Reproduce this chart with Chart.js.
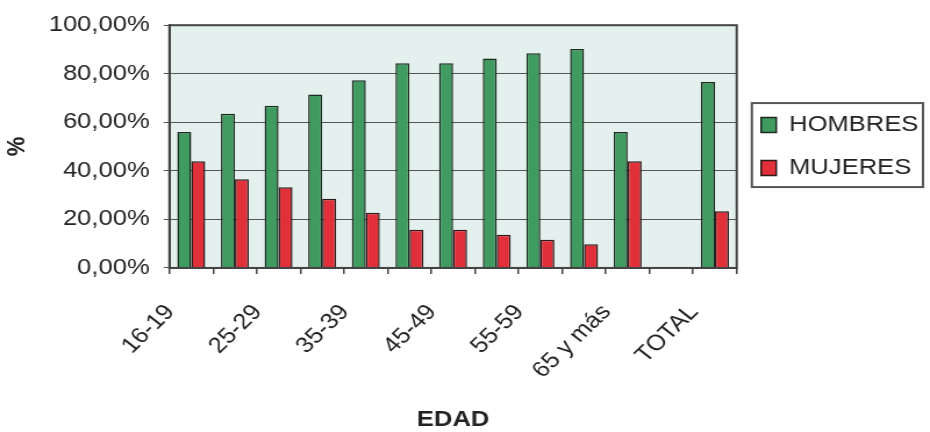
<!DOCTYPE html>
<html>
<head>
<meta charset="utf-8">
<script src="https://cdn.jsdelivr.net/npm/chart.js@4"></script>
<style>
  html, body { margin: 0; padding: 0; background: #fff; overflow: hidden; }
  #wrap { width: 800px; height: 432px; transform: scaleX(1.1625); transform-origin: 0 0; }
</style>
</head>
<body>
<div id="wrap"><canvas id="edadChart"></canvas></div>
<script>
// percent of each sex by age group
const categories = ["16-19", "20-24", "25-29", "30-34", "35-39", "40-44", "45-49",
  "50-54", "55-59", "60-64", "65 y más", "", "TOTAL"];
const hombres = [56.0, 63.5, 66.8, 71.5, 77.3, 84.3, 84.3, 86.3, 88.4, 90.2, 56.0, null, 76.6];
const mujeres = [44.0, 36.5, 33.2, 28.5, 22.7, 15.7, 15.7, 13.7, 11.6, 9.8, 44.0, null, 23.4];
const yTicks = [0, 20, 40, 60, 80, 100];

Chart.defaults.font.family = "'Liberation Sans', Arial, sans-serif";
Chart.defaults.font.size = 22;
Chart.defaults.color = "#222";

const plotFrame = {
  id: "plotFrame",
  beforeDraw(chart) {
    const {ctx, chartArea: a} = chart;
    ctx.save();
    ctx.fillStyle = "#e3f0ee";
    ctx.fillRect(a.left, a.top, a.right - a.left, a.bottom - a.top);
    ctx.restore();
  },
  afterDatasetsDraw(chart) {
    const {ctx, chartArea: a} = chart;
    ctx.save();
    ctx.strokeStyle = "#444";
    ctx.lineWidth = 2;
    ctx.strokeRect(a.left, a.top, a.right - a.left, a.bottom - a.top);
    ctx.restore();
  },
  afterDraw(chart) {
    // box round the legend like the original
    const hb = chart.legend.legendHitBoxes;
    if (!hb || !hb.length) return;
    const last = hb[hb.length - 1];
    const x0 = hb[0].left - 8;
    const x1 = Math.max(...hb.map(h => h.left + h.width)) + 4;
    const y0 = hb[0].top - 11;
    const y1 = last.top + last.height + 8;
    const ctx = chart.ctx;
    ctx.save();
    ctx.strokeStyle = "#555";
    ctx.lineWidth = 2;
    ctx.strokeRect(x0, y0, x1 - x0, y1 - y0);
    ctx.restore();
  }
};

new Chart(document.getElementById("edadChart"), {
  type: "bar",
  data: {
    labels: categories,
    datasets: [
      {
        label: "HOMBRES",
        data: hombres,
        backgroundColor: "#3f9b60",
        borderColor: "#1c2b20",
        borderWidth: 1.5
      },
      {
        label: "MUJERES",
        data: mujeres,
        backgroundColor: "#e2303a",
        borderColor: "#2b1a1a",
        borderWidth: 1.5
      }
    ]
  },
  options: {
    responsive: true,
    maintainAspectRatio: false,
    animation: false,
    layout: { padding: { top: 22, right: 0, bottom: 0, left: 0 } },
    datasets: { bar: { categoryPercentage: 0.64, barPercentage: 1.0 } },
    plugins: {
      tooltip: { enabled: false },
      legend: {
        position: "right",
        fullSize: false,
        labels: { boxWidth: 13, boxHeight: 15, padding: 21, font: { size: 22 } }
      }
    },
    scales: {
      x: {
        grid: { offset: true, drawOnChartArea: false, drawTicks: true, tickLength: 6, color: "#444", lineWidth: 1.5 },
        border: { display: true, color: "#444", width: 2 },
        ticks: {
          autoSkip: false,
          minRotation: 48,
          maxRotation: 48,
          padding: 27,
          labelOffset: -18,
          font: { size: 22, lineHeight: 1 },
          callback: function (v, i) { return i % 2 === 0 ? this.getLabelForValue(v) : ""; }
        },
        title: { display: true, text: "EDAD", font: { size: 22, weight: "bold", lineHeight: 1 }, padding: { top: 0, bottom: 1 } }
      },
      y: {
        min: 0,
        max: 100,
        afterBuildTicks: scale => { scale.ticks = yTicks.map(v => ({ value: v })); },
        grid: { color: "#555", lineWidth: 1, tickLength: 5 },
        border: { display: true, color: "#444", width: 2 },
        ticks: {
          padding: 12,
          callback: v => v.toFixed(2).replace(".", ",") + "%"
        },
        title: { display: true, text: "%", font: { size: 22, weight: "bold" }, padding: { top: 2, bottom: 1.5 } }
      }
    }
  },
  plugins: [plotFrame]
});
</script>
</body>
</html>
